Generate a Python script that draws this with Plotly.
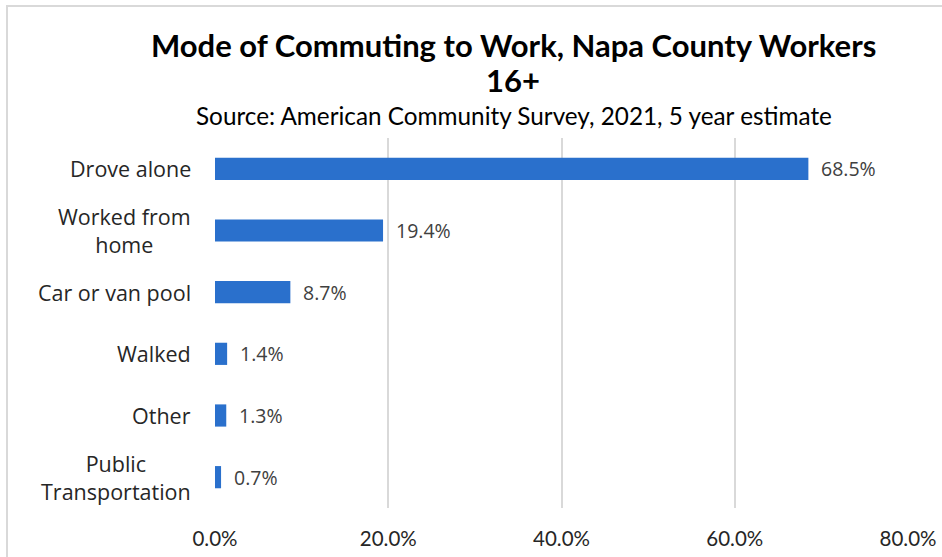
import plotly.graph_objects as go

# Commuting mode shares (percent of workers 16+)
categories = ["Drove alone", "Worked from home", "Car or van pool", "Walked", "Other", "Public Transportation"]
category_labels = ["Drove alone", "Worked from<br>home", "Car or van pool", "Walked", "Other", "Public<br>Transportation"]
shares = [68.5, 19.4, 8.7, 1.4, 1.3, 0.7]
tick_values = [0, 20, 40, 60, 80]
tick_labels = ["0.0%", "20.0%", "40.0%", "60.0%", "80.0%"]

BAR_COLOR = "#2A70CC"
HEAD = "Lato, Noto Sans, sans-serif"
BODY = "Open Sans, Noto Sans, sans-serif"

W, H = 942, 557
L, R, T, B = 215, 34, 138, 49

fig = go.Figure(
    go.Bar(
        x=shares,
        y=categories,
        orientation="h",
        width=0.36,
        marker=dict(color=BAR_COLOR, line=dict(width=0)),
        hoverinfo="skip",
    )
)

# value labels to the right of each bar
for cat, v in zip(categories, shares):
    fig.add_annotation(
        x=v, y=cat, xref="x", yref="y",
        text=f"{v:.1f}%", showarrow=False,
        xanchor="left", xshift=11,
        font=dict(family=BODY, size=19.5, color="#404040"),
    )

# category labels, centred within a right-aligned box
label_x = (193 - L) / (W - L - R)
for cat, lab in zip(categories, category_labels):
    fig.add_annotation(
        x=label_x, y=cat, xref="paper", yref="y",
        text=lab, showarrow=False, xanchor="right", align="center",
        font=dict(family=BODY, size=21.5, color="#262626"),
    )

def px_x(p):
    return (p - L) / (W - L - R)

def px_y(p):
    return (H - B - p) / (H - T - B)

fig.add_annotation(
    x=px_x(513), y=px_y(45), xref="paper", yref="paper",
    text="<b>Mode of Commuting to Work, Napa County Workers</b>",
    showarrow=False, xanchor="center", yanchor="middle",
    font=dict(family=HEAD, size=31, color="#000000"),
)
fig.add_annotation(
    x=px_x(513), y=px_y(80), xref="paper", yref="paper",
    text="<b>16+</b>", showarrow=False, xanchor="center", yanchor="middle",
    font=dict(family=HEAD, size=31, color="#000000"),
)
fig.add_annotation(
    x=px_x(514), y=px_y(116), xref="paper", yref="paper",
    text="Source: American Community Survey, 2021, 5 year estimate",
    showarrow=False, xanchor="center", yanchor="middle",
    font=dict(family=HEAD, size=24.3, color="#000000"),
)

# outer chart frame
fig.add_shape(
    type="rect", xref="paper", yref="paper",
    x0=px_x(7), y0=px_y(H + 20), x1=px_x(W + 20), y1=px_y(6),
    line=dict(color="#D9D9D9", width=2), fillcolor="rgba(0,0,0,0)", layer="below",
)

fig.update_layout(
    width=W, height=H,
    margin=dict(l=L, r=R, t=T, b=B, autoexpand=False),
    paper_bgcolor="white", plot_bgcolor="white",
    showlegend=False,
    bargap=0.64,
    xaxis=dict(
        range=[0, 80], tickvals=tick_values, ticktext=tick_labels,
        showgrid=True, gridcolor="#D9D9D9", gridwidth=2,
        zeroline=False, showline=False, ticks="",
        automargin=False,
        ticklabelstandoff=16,
        tickfont=dict(family=HEAD, size=20.5, color="#262626"),
        fixedrange=True,
    ),
    yaxis=dict(
        categoryorder="array", categoryarray=categories,
        autorange="reversed", showticklabels=False, ticks="",
        showgrid=False, zeroline=False, showline=False,
        automargin=False,
        fixedrange=True,
    ),
)

fig.write_html("out.html")
